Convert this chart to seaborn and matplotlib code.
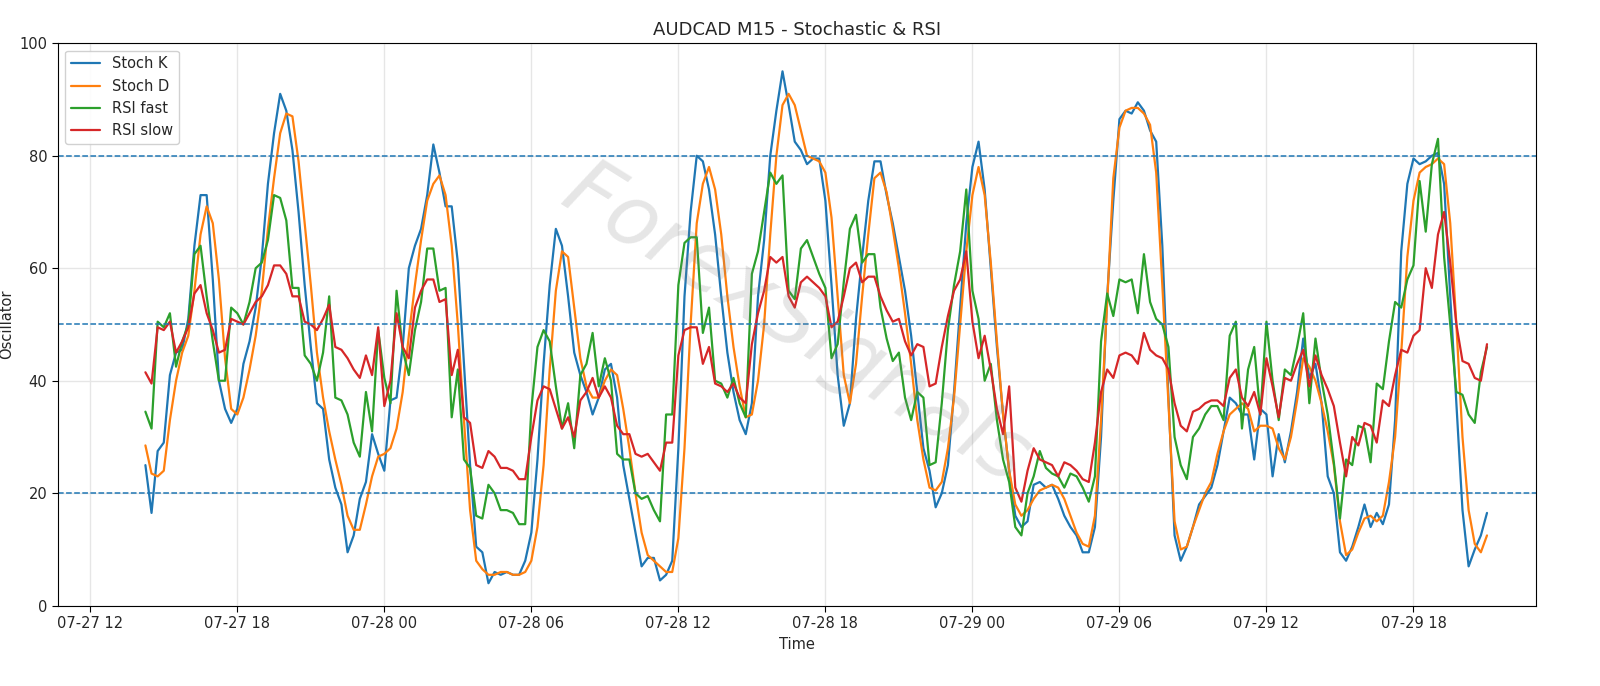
import matplotlib
matplotlib.use("Agg")
import matplotlib.pyplot as plt
import matplotlib.dates as mdates
import seaborn as sns
import pandas as pd

start = pd.Timestamp("2024-07-27 14:15")

stoch_k = [25, 16.5, 27.5, 29, 41, 45, 45.5, 51, 64, 73, 73, 58, 40, 35, 32.5, 35, 43, 47, 53, 62,
           75, 84, 91, 88, 81, 70, 57, 46, 36, 35, 26, 21, 18, 9.5, 12.5, 19, 22, 30.5, 27, 24,
           36.5, 37, 46, 60, 64, 67, 73, 82, 77, 71, 71, 61, 43, 25, 10.5, 9.5, 4, 6, 5.5, 6,
           5.5, 5.5, 8, 13, 26, 43, 57, 67, 64, 55, 45, 41, 38, 34, 37, 42, 43, 37, 25, 19,
           13, 7, 8.5, 8.5, 4.5, 5.5, 8, 28, 55, 70, 80, 79, 74, 66, 55, 45, 38, 33, 30.5, 36,
           55, 65, 80, 88, 95, 89, 82.5, 81, 78.5, 79.5, 79.5, 72, 57, 41, 32, 36, 51, 62, 72, 79,
           79, 73, 68, 62, 56, 48, 38, 28, 24, 17.5, 20, 25, 38, 53, 68, 78, 82.5, 74, 60, 46,
           34, 24, 16, 14, 15, 21.5, 22, 21, 21.5, 19, 16, 14, 12.5, 9.5, 9.5, 14, 30, 55, 72, 86.5,
           88, 87.5, 89.5, 88, 84.5, 82.5, 64, 37, 12.5, 8, 10.5, 14, 18, 19.5, 21, 25, 31, 37, 36, 34,
           34, 26, 35, 34, 23, 30.5, 25.5, 31, 38, 47.5, 40.5, 43, 36, 23, 20, 9.5, 8, 10.5, 14, 18,
           14, 16.5, 14.5, 18, 33, 63, 75, 79.5, 78.5, 79, 80, 80.5, 75, 55, 36, 17, 7, 10, 12.5, 16.5]

stoch_d = [28.5, 23.5, 23, 24, 33, 40, 45, 48, 56, 66, 71, 68, 58, 44, 35, 34, 37, 42, 48, 56,
           67, 76, 84, 87.5, 87, 79, 68, 57, 45, 37, 31, 26, 21.5, 16, 13.5, 13.5, 18, 23, 26.5, 27,
           28, 31.5, 38, 48, 57, 65, 72, 75, 76.5, 73, 64, 50, 33, 17, 8, 6.5, 5.5, 5.5, 6, 6,
           5.5, 5.5, 6, 8, 14, 25, 42, 56, 63, 62, 53, 44, 39, 37, 37, 40, 42, 41, 35, 28,
           20, 13, 9, 8, 7, 6, 6, 12, 28, 50, 68, 75, 78, 74, 66, 55, 46, 39, 33.5, 34,
           40, 50, 66, 80, 89, 91, 89, 84.5, 80, 79.5, 79, 77, 69, 55, 41, 36, 43, 55, 66, 76,
           77, 73.5, 67, 60, 52, 43, 33, 26, 21, 20.5, 22, 28, 37, 50, 63, 73, 78, 73, 61, 47,
           34, 24, 18, 16, 17, 19, 20.5, 21, 21.5, 21, 19, 16, 13, 11, 10.5, 16, 33, 54, 76, 85,
           88, 88.5, 88.5, 87.5, 85.5, 77, 57, 36, 15, 10, 10.5, 14, 17, 20, 22, 27, 31, 34, 35, 36,
           35, 31, 32, 32, 31.5, 28, 26, 30, 36.5, 44, 42.5, 40, 36, 31, 25, 15, 9, 10, 13, 15.5,
           16, 15, 16, 22, 30, 45, 62, 72, 77, 78, 78.5, 79.5, 78.5, 68, 50, 30, 17, 11, 9.5, 12.5]

rsi_fast = [34.5, 31.5, 50.5, 49.5, 52, 42.5, 47, 50, 62.5, 64, 55, 47, 40, 40, 53, 52, 50, 54, 60, 61,
            65, 73, 72.5, 68.5, 56.5, 56.5, 44.5, 43, 40, 45, 55, 37, 36.5, 34, 29, 26.5, 38, 31, 49, 40.5,
            36, 56, 45.5, 41, 49, 54, 63.5, 63.5, 56, 56.5, 33.5, 42, 26, 24.5, 16, 15.5, 21.5, 20, 17, 17,
            16.5, 14.5, 14.5, 35, 46, 49, 47, 39, 31.5, 36, 28, 41, 43, 48.5, 39, 44, 40, 27, 26, 26,
            20, 19, 19.5, 17, 15, 34, 34, 57, 64.5, 65.5, 65.5, 48.5, 53, 40, 39.5, 37, 40.5, 36, 33.5, 59,
            63, 70, 77, 75, 76.5, 56, 54.5, 63.5, 65, 62, 59, 56.5, 44, 46.5, 57.5, 67, 69.5, 61, 62.5, 62.5,
            53, 47.5, 43.5, 45, 37, 33, 38, 37, 25, 25.5, 36, 49, 57, 63, 74, 56, 51, 40, 43, 33,
            26, 22, 14, 12.5, 20, 23, 27.5, 24.5, 23.5, 23, 21, 23.5, 23, 21, 18.5, 23, 47, 55.5, 51.5, 58,
            57.5, 58, 52, 62.5, 54, 51, 50, 46, 30, 25, 22.5, 30, 31.5, 34, 35.5, 35.5, 33, 48, 50.5, 31.5,
            42, 46, 34, 50.5, 40, 33, 42, 41, 46, 52, 36, 47.5, 40, 34, 25.5, 15.5, 26, 25, 32, 31.5,
            25.5, 39.5, 38.5, 47, 54, 53, 58, 60.5, 75.5, 66.5, 78.5, 83, 62, 50, 38, 37.5, 34, 32.5, 41.5, 46]

rsi_slow = [41.5, 39.5, 49.5, 49, 50.5, 45, 47, 49.5, 55.5, 57, 52, 49, 45, 45.5, 51, 50.5, 50, 52, 54, 55,
            57, 60.5, 60.5, 59, 55, 55, 50.5, 50, 49, 51, 53.5, 46, 45.5, 44, 42, 40.5, 44.5, 41, 49.5, 35.5,
            40, 52, 46, 44, 53, 56, 58, 58, 54, 54.5, 41, 45.5, 33.5, 32.5, 25, 24.5, 27.5, 26.5, 24.5, 24.5,
            24, 22.5, 22.5, 30, 36.5, 39, 38.5, 35, 31.5, 33.5, 30, 36.5, 38, 40.5, 37, 39, 37, 32, 30.5, 30.5,
            27, 26.5, 27, 25.5, 24, 29, 29, 44.5, 49, 49.5, 49.5, 43, 46, 39.5, 39, 38, 39.5, 37, 36, 46.5,
            52, 56, 62, 61, 62, 55, 53, 57.5, 58.5, 57.5, 56.5, 55, 49.5, 50.5, 55, 60, 61, 57.5, 58.5, 58.5,
            55, 52.5, 50.5, 51, 47, 44.5, 46.5, 46, 39, 39.5, 46, 51.5, 56, 58, 63, 50.5, 44, 48, 42, 35,
            30.5, 39, 21, 18.5, 24, 28, 26, 25.5, 25, 23, 25.5, 25, 24, 22.5, 22, 29, 38, 42, 40.5, 44.5,
            45, 44.5, 43, 48.5, 45.5, 44.5, 44, 42, 36, 32, 31, 34.5, 35, 36, 36.5, 36.5, 35.5, 40.5, 42, 37,
            35.5, 38, 34, 44, 39, 33.5, 40.5, 40, 43, 45.5, 39, 44.5, 41, 38.5, 35.5, 29, 23, 30, 28.5, 32.5,
            32, 29, 36.5, 35.5, 41, 45.5, 45, 48, 49, 60, 56.5, 66, 70, 61, 50, 43.5, 43, 40.5, 40, 46.5]

series = {"Stoch K": stoch_k, "Stoch D": stoch_d, "RSI fast": rsi_fast, "RSI slow": rsi_slow}
colors = ["#1f77b4", "#ff7f0e", "#2ca02c", "#d62728"]

frames = []
for name, vals in series.items():
    frames.append(pd.DataFrame({
        "Time": pd.date_range(start, periods=len(vals), freq="15min"),
        "value": vals,
        "series": name,
    }))
df = pd.concat(frames, ignore_index=True)

sns.set_style("white")
plt.rcParams['font.family'] = ['DejaVu Sans']
fig, ax = plt.subplots(figsize=(16, 6.86), dpi=100)
fig.subplots_adjust(left=0.036, right=0.96, top=0.937, bottom=0.117)

sns.lineplot(data=df, x="Time", y="value", hue="series", palette=colors, linewidth=1.6, ax=ax)

for lvl in [80, 50, 20]:
    ax.axhline(lvl, color="#1f77b4", linestyle="--", linewidth=1.1)

ax.grid(True, color="#e6e6e6", linewidth=1)
ax.set_axisbelow(True)
ax.set_ylim(0, 100)
ax.set_xlim(pd.Timestamp("2024-07-27 10:40"), pd.Timestamp("2024-07-29 23:00"))
ax.xaxis.set_major_locator(mdates.HourLocator(byhour=[0, 6, 12, 18]))
ax.xaxis.set_major_formatter(mdates.DateFormatter("%m-%d %H"))
for s in ax.spines.values():
    s.set_color("black")
ax.tick_params(axis="both", labelsize=10.5, length=4, color="black", bottom=True, left=True)
ax.set_xlabel("Time", fontsize=10.5)
ax.set_ylabel("Oscillator", fontsize=10.5)
ax.set_title("AUDCAD M15 - Stochastic & RSI", fontsize=13)
ax.legend(loc="upper left", fontsize=10.5, title=None, framealpha=0.9)

ax.text(0.5, 0.5, "ForexSignals", transform=ax.transAxes, fontsize=60, style="italic",
        color="gray", alpha=0.2, rotation=-32, ha="center", va="center")

fig.savefig("out.png", dpi=100)
